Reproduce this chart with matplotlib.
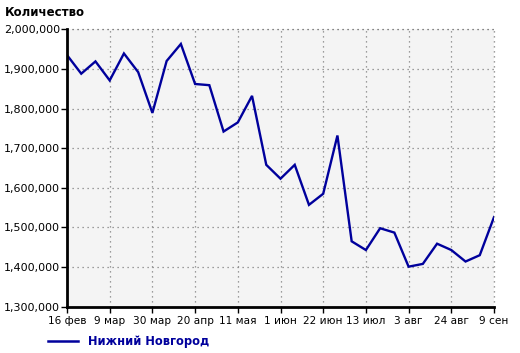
import matplotlib
matplotlib.use("Agg")
import matplotlib.pyplot as plt
from matplotlib.lines import Line2D
from matplotlib.ticker import FuncFormatter

values = [1935000, 1888000, 1919000, 1871000, 1939000, 1892000, 1789000, 1920000,
          1963000, 1862000, 1859000, 1742000, 1765000, 1832000, 1658000, 1623000,
          1658000, 1557000, 1585000, 1732000, 1465000, 1443000, 1498000, 1487000,
          1401000, 1408000, 1459000, 1443000, 1414000, 1430000, 1526000]
tick_labels = ["16 фев", "9 мар", "30 мар", "20 апр", "11 мая", "1 июн",
               "22 июн", "13 июл", "3 авг", "24 авг", "9 сен"]
series_name = "Нижний Новгород"
y_title = "Количество"

plt.rcParams['font.family'] = ['DejaVu Sans']
W, H = 520, 353
fig = plt.figure(figsize=(W/100, H/100), dpi=100)
ax = fig.add_axes([67/W, 1-306.7/H, (494-67)/W, (306.7-29.3)/H])
ax.set_facecolor('#F4F4F4')
color = '#00009C'
x = list(range(len(values)))
ax.plot(x, values, color=color, lw=1.7, solid_joinstyle='miter')
ax.set_xlim(0, len(values)-1)
ax.set_ylim(1300000, 2000000)
ax.set_xticks(list(range(0, len(values), 3)))
ax.set_xticklabels(tick_labels, fontsize=7.6)
ax.set_yticks(range(1300000, 2000001, 100000))
ax.yaxis.set_major_formatter(FuncFormatter(lambda v, p: f"{int(v):,}"))
ax.tick_params(axis='y', labelsize=8, length=4, width=1, pad=1)
ax.tick_params(axis='x', length=4, width=1, pad=3)
ax.grid(True, color='#808080', linestyle=(0, (1, 3)), lw=0.9)
for s in ['top', 'right']:
    ax.spines[s].set_visible(False)
for s in ['left', 'bottom']:
    ax.spines[s].set_linewidth(2)
    ax.spines[s].set_color('black')
ax.axhline(2000000, color='#808080', linestyle=(0, (1, 3)), lw=0.9, clip_on=False)
ax.axvline(len(values)-1, color='#808080', linestyle=(0, (1, 3)), lw=0.9, clip_on=False)

fig.text(5/W, 1-12/H, y_title, fontsize=8.5, fontweight='bold', va='center', ha='left')
fig.add_artist(Line2D([48/W, 78/W], [1-341/H, 1-341/H], color=color, lw=1.8))
fig.text(88/W, 1-341/H, series_name, fontsize=8.3, fontweight='bold', color=color,
         va='center', ha='left')
fig.savefig('out.png', dpi=100)
